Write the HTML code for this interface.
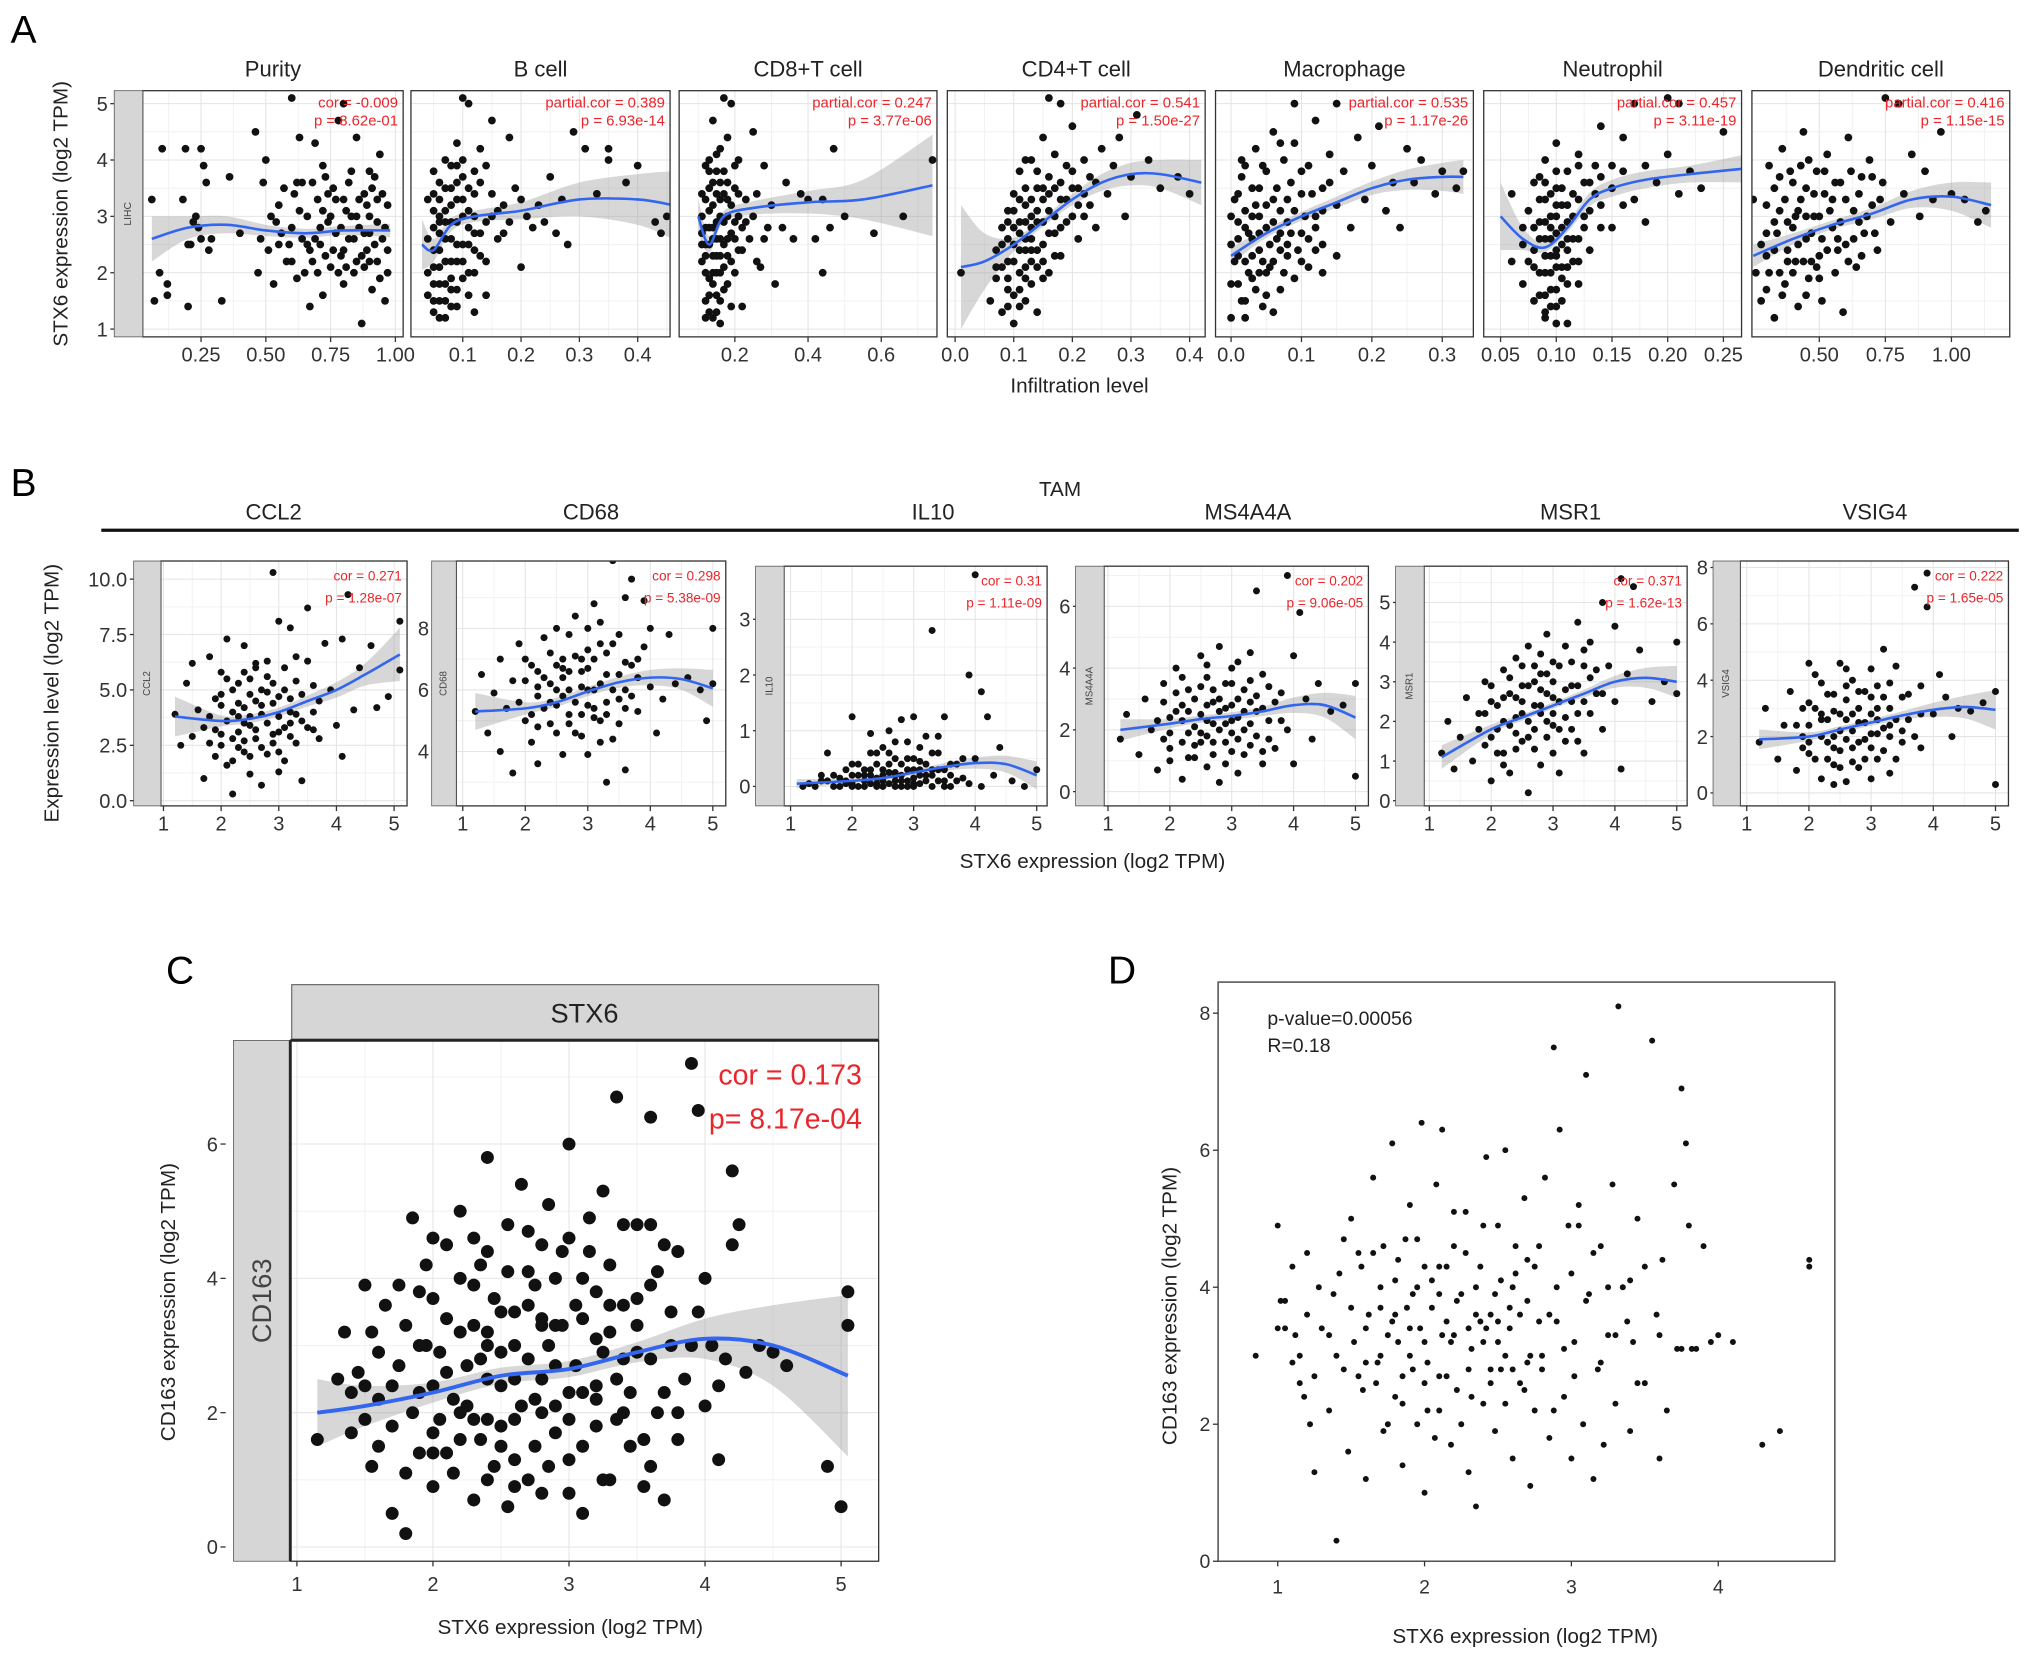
<!DOCTYPE html>
<html><head><meta charset="utf-8">
<style>
html,body{margin:0;padding:0;background:#fff;}
svg{display:block;font-family:"Liberation Sans",Arial,sans-serif;}
</style></head>
<body>
<svg id="fig" width="2032" height="1661" viewBox="0 0 1568 1282" xmlns="http://www.w3.org/2000/svg">
<rect width="1568" height="1282" fill="#fff"/>
<text x="8" y="33" font-size="30">A</text>
<text x="8" y="383" font-size="30">B</text>
<text x="128" y="759" font-size="30">C</text>
<text x="855" y="759" font-size="30">D</text>
<text x="52" y="165" font-size="16" text-anchor="middle" fill="#222" transform="rotate(-90 52 165)">STX6 expression (log2 TPM)</text>
<text x="833" y="303" font-size="16" text-anchor="middle" fill="#222">Infiltration level</text>
<text x="818" y="383" font-size="16" text-anchor="middle" fill="#222">TAM</text>
<rect x="78" y="408" width="1480" height="2.5" fill="#111"/>
<text x="45" y="535" font-size="16" text-anchor="middle" fill="#222" transform="rotate(-90 45 535)">Expression level (log2 TPM)</text>
<text x="843" y="670" font-size="16" text-anchor="middle" fill="#222">STX6 expression (log2 TPM)</text>
<text x="135" y="1005" font-size="16" text-anchor="middle" fill="#222" transform="rotate(-90 135 1005)">CD163 expression (log2 TPM)</text>
<text x="440" y="1261" font-size="16" text-anchor="middle" fill="#222">STX6 expression (log2 TPM)</text>
<text x="908" y="1008" font-size="16" text-anchor="middle" fill="#222" transform="rotate(-90 908 1008)">CD163 expression (log2 TPM)</text>
<text x="1177" y="1268" font-size="16" text-anchor="middle" fill="#222">STX6 expression (log2 TPM)</text>
</svg>
<script>
// ---------- DATA ----------
const purityPts=[[0.06,3.3],[0.07,1.5],[0.09,2.0],[0.1,4.2],[0.12,1.8],[0.12,1.6],[0.18,3.3],[0.19,4.2],[0.2,1.4],[0.21,2.5],[0.23,3.0],[0.24,2.8],[0.25,4.2],[0.26,3.9],[0.27,3.6],[0.29,2.6],[0.33,1.5],[0.36,3.7],[0.4,2.7],[0.46,4.5],[0.47,2.0],[0.49,3.6],[0.5,4.0],[0.51,2.4],[0.53,1.8],[0.55,3.2],[0.56,2.7],[0.58,2.2],[0.6,5.1],[0.61,3.4],[0.62,1.9],[0.63,4.4],[0.64,2.6],[0.66,3.0],[0.67,1.4],[0.68,2.2],[0.69,4.3],[0.7,3.3],[0.71,2.5],[0.72,1.6],[0.73,3.7],[0.74,2.9],[0.75,2.1],[0.76,3.5],[0.77,2.7],[0.78,4.7],[0.79,2.3],[0.8,5.0],[0.8,1.8],[0.81,3.1],[0.82,2.6],[0.83,3.8],[0.84,2.0],[0.85,4.4],[0.86,2.8],[0.87,1.1],[0.88,3.4],[0.89,2.4],[0.9,3.0],[0.91,1.7],[0.92,3.7],[0.93,2.2],[0.94,4.1],[0.95,2.6],[0.96,1.5],[0.97,3.2],[0.97,2.0],[0.6,2.8],[0.65,2.0],[0.75,3.0],[0.85,3.0],[0.7,2.0],[0.9,2.7],[0.55,2.5],[0.8,2.4],[0.62,3.6],[0.72,3.9],[0.88,2.1],[0.93,3.3],[0.67,2.4]];
const purityPts2=[[0.52,3.0],[0.57,3.5],[0.59,2.5],[0.63,3.1],[0.66,2.5],[0.68,3.6],[0.71,2.8],[0.73,2.3],[0.76,2.4],[0.77,3.3],[0.79,2.8],[0.81,2.1],[0.82,3.6],[0.84,2.6],[0.86,3.3],[0.87,2.3],[0.89,3.2],[0.9,2.2],[0.91,3.5],[0.92,2.5],[0.93,2.9],[0.94,1.9],[0.95,3.4],[0.96,2.8],[0.97,2.4],[0.78,2.0],[0.74,3.4],[0.69,2.6],[0.64,3.6],[0.85,2.2],[0.88,2.7],[0.83,3.0],[0.8,3.3],[0.9,3.8],[0.72,3.1],[0.6,2.2],[0.54,2.9],[0.48,2.6],[0.25,2.6],[0.22,2.9],[0.2,2.5],[0.28,2.4]];
const puritySmX=[0.06,0.2,0.35,0.5,0.65,0.8,0.98], puritySmY=[2.6,2.8,2.85,2.75,2.7,2.75,2.75], puritySe=[0.4,0.2,0.15,0.1,0.08,0.08,0.12];
const bcellPts=[[0.04,3.3],[0.04,2.0],[0.05,1.5],[0.05,2.8],[0.05,3.8],[0.06,1.2],[0.06,2.4],[0.06,3.0],[0.07,1.8],[0.07,4.0],[0.07,2.6],[0.08,3.5],[0.08,1.4],[0.08,2.2],[0.09,4.3],[0.09,2.9],[0.09,1.7],[0.1,3.7],[0.1,2.5],[0.1,5.1],[0.11,5.0],[0.11,3.1],[0.11,2.0],[0.12,1.3],[0.12,3.4],[0.12,2.7],[0.13,4.2],[0.13,2.3],[0.14,3.9],[0.14,1.6],[0.15,3.0],[0.15,4.7],[0.16,2.6],[0.17,3.2],[0.18,4.4],[0.18,2.9],[0.19,3.5],[0.2,2.1],[0.21,3.0],[0.22,2.8],[0.23,3.2],[0.25,3.7],[0.26,2.7],[0.27,3.3],[0.28,2.5],[0.29,4.5],[0.31,4.2],[0.33,3.4],[0.35,4.2],[0.35,4.0],[0.38,3.6],[0.4,3.9],[0.43,2.9],[0.45,3.0],[0.44,2.7],[0.06,3.6],[0.07,3.1],[0.08,2.9],[0.09,2.2],[0.05,2.1],[0.1,1.9],[0.12,2.0],[0.06,1.8],[0.11,2.5],[0.05,3.4],[0.07,2.2],[0.09,3.3],[0.08,1.9],[0.06,2.7],[0.1,3.0]];
const bcellPts2=[[0.04,2.6],[0.05,1.8],[0.05,3.1],[0.06,2.1],[0.06,3.3],[0.06,1.5],[0.07,2.9],[0.07,1.5],[0.07,3.5],[0.08,2.6],[0.08,3.2],[0.08,1.7],[0.09,2.5],[0.09,3.6],[0.09,1.4],[0.1,2.2],[0.1,3.3],[0.1,4.0],[0.11,2.8],[0.11,3.5],[0.11,1.6],[0.12,2.4],[0.12,3.0],[0.13,2.7],[0.13,3.6],[0.14,2.9],[0.14,2.2],[0.15,3.4],[0.16,3.1],[0.17,2.7],[0.05,2.4],[0.06,2.9],[0.07,1.2],[0.08,3.9],[0.09,3.9],[0.04,1.6],[0.05,1.3],[0.12,3.8],[0.2,3.3],[0.24,2.9]];
const bcellSmX=[0.03,0.05,0.08,0.12,0.2,0.3,0.4,0.46], bcellSmY=[2.5,2.4,2.85,3.0,3.1,3.3,3.3,3.2], bcellSe=[0.45,0.2,0.12,0.1,0.15,0.3,0.45,0.6];
const cd8Pts=[[0.11,3.4],[0.11,2.2],[0.12,1.5],[0.12,2.8],[0.12,3.9],[0.13,1.3],[0.13,2.5],[0.13,3.1],[0.14,4.7],[0.14,1.8],[0.14,3.6],[0.15,2.0],[0.15,2.9],[0.15,4.1],[0.16,1.1],[0.16,2.6],[0.16,3.3],[0.17,5.1],[0.17,1.7],[0.17,3.8],[0.18,2.3],[0.18,3.0],[0.18,4.4],[0.19,5.0],[0.19,1.4],[0.19,2.7],[0.2,3.5],[0.2,2.0],[0.21,4.0],[0.21,3.0],[0.22,2.4],[0.22,1.4],[0.23,3.3],[0.24,2.6],[0.25,4.5],[0.26,3.4],[0.27,2.1],[0.28,3.9],[0.29,2.8],[0.3,3.2],[0.31,1.8],[0.33,2.8],[0.34,3.6],[0.36,2.6],[0.38,3.4],[0.4,3.3],[0.42,2.6],[0.44,3.3],[0.44,2.0],[0.46,2.8],[0.47,4.2],[0.5,3.0],[0.58,2.7],[0.66,3.0],[0.74,4.0],[0.14,2.3],[0.15,3.4],[0.17,2.1],[0.2,2.6],[0.13,1.9],[0.18,3.6],[0.16,3.0],[0.12,2.3],[0.14,2.8],[0.15,1.6],[0.13,3.5],[0.16,2.0]];
const cd8Pts2=[[0.11,2.7],[0.11,3.0],[0.12,2.0],[0.12,3.3],[0.13,2.8],[0.13,3.8],[0.13,1.6],[0.14,2.6],[0.14,3.2],[0.14,2.0],[0.15,2.6],[0.15,3.8],[0.15,2.3],[0.16,2.3],[0.16,3.6],[0.16,1.5],[0.17,2.9],[0.17,3.4],[0.18,2.6],[0.18,1.8],[0.19,3.2],[0.19,2.2],[0.2,2.9],[0.2,3.9],[0.21,2.4],[0.21,3.4],[0.22,2.8],[0.12,1.2],[0.14,1.2],[0.16,4.2],[0.13,4.0],[0.15,1.3],[0.17,2.5],[0.11,2.5],[0.12,2.5],[0.18,3.3],[0.25,3.0],[0.28,2.6],[0.23,2.9],[0.26,2.2]];
const cd8SmX=[0.1,0.13,0.17,0.25,0.4,0.55,0.74], cd8SmY=[3.0,2.5,3.0,3.15,3.25,3.3,3.55], cd8Se=[0.3,0.15,0.1,0.12,0.2,0.35,0.9];
const cd4Pts=[[0.01,2.0],[0.06,1.5],[0.07,2.4],[0.07,1.9],[0.08,2.8],[0.08,1.3],[0.09,2.2],[0.09,3.1],[0.09,1.7],[0.1,2.5],[0.1,3.4],[0.1,1.1],[0.11,2.0],[0.11,2.9],[0.11,3.8],[0.12,1.5],[0.12,2.6],[0.12,3.2],[0.13,2.2],[0.13,4.0],[0.13,1.8],[0.14,2.9],[0.14,3.5],[0.14,1.3],[0.15,2.5],[0.15,4.4],[0.16,3.1],[0.16,2.0],[0.16,3.7],[0.17,2.7],[0.17,4.1],[0.18,3.3],[0.18,2.3],[0.19,3.9],[0.19,2.9],[0.2,3.5],[0.2,4.6],[0.21,2.6],[0.21,3.2],[0.22,4.0],[0.22,3.0],[0.23,3.7],[0.24,2.8],[0.25,4.2],[0.26,3.4],[0.27,3.9],[0.28,4.4],[0.29,3.0],[0.3,3.7],[0.31,4.8],[0.33,4.0],[0.35,3.5],[0.38,3.7],[0.4,3.4],[0.16,5.1],[0.18,5.0],[0.12,2.1],[0.14,2.4],[0.1,2.8],[0.13,3.0],[0.15,1.9],[0.11,2.4],[0.12,2.9],[0.13,2.6],[0.09,2.6],[0.15,3.3]];
const cd4Pts2=[[0.07,2.1],[0.08,2.1],[0.08,2.5],[0.09,1.9],[0.09,2.9],[0.1,2.2],[0.1,3.1],[0.1,1.6],[0.11,2.7],[0.11,3.3],[0.11,1.7],[0.12,2.4],[0.12,3.5],[0.12,1.9],[0.13,2.8],[0.13,3.3],[0.13,2.4],[0.14,3.1],[0.14,2.1],[0.14,3.8],[0.15,2.9],[0.15,3.5],[0.15,2.2],[0.16,2.7],[0.16,3.4],[0.17,3.0],[0.17,3.5],[0.17,2.3],[0.18,2.8],[0.18,3.6],[0.19,3.3],[0.2,3.0],[0.2,3.8],[0.21,3.5],[0.22,3.4],[0.23,3.2],[0.24,3.6],[0.11,1.4],[0.09,1.4],[0.12,4.0]];
const cd4SmX=[0.01,0.05,0.1,0.15,0.2,0.25,0.3,0.35,0.42], cd4SmY=[2.1,2.2,2.5,2.9,3.3,3.6,3.75,3.75,3.6], cd4Se=[1.1,0.5,0.12,0.08,0.1,0.15,0.2,0.25,0.4];
const macPts=[[0.0,1.2],[0.0,2.5],[0.005,3.3],[0.01,1.8],[0.01,2.9],[0.015,3.7],[0.02,2.2],[0.02,1.5],[0.025,2.7],[0.03,3.5],[0.03,1.9],[0.035,4.2],[0.04,2.4],[0.04,3.0],[0.045,1.4],[0.05,2.8],[0.05,3.8],[0.055,2.1],[0.06,3.3],[0.06,4.5],[0.065,2.6],[0.07,1.7],[0.07,3.1],[0.075,4.0],[0.08,2.3],[0.08,2.9],[0.085,3.6],[0.09,1.9],[0.09,4.3],[0.1,2.7],[0.1,3.4],[0.11,2.1],[0.11,3.9],[0.12,3.0],[0.12,4.7],[0.13,2.5],[0.13,3.5],[0.14,4.1],[0.15,3.2],[0.15,2.3],[0.16,3.8],[0.17,2.8],[0.18,4.4],[0.19,3.3],[0.2,3.9],[0.21,4.6],[0.22,3.1],[0.23,3.6],[0.24,2.8],[0.25,4.2],[0.26,3.6],[0.27,4.0],[0.29,3.4],[0.3,3.8],[0.32,3.5],[0.33,3.8],[0.06,1.3],[0.03,2.6],[0.08,2.5],[0.05,2.0],[0.12,2.4],[0.09,5.0],[0.15,5.0],[0.02,3.1],[0.04,2.0],[0.07,2.4],[0.01,2.3],[0.035,3.2]];
const macPts2=[[0.0,1.8],[0.0,3.0],[0.005,2.2],[0.01,2.6],[0.01,3.4],[0.015,1.5],[0.02,2.8],[0.02,3.9],[0.025,2.0],[0.03,2.3],[0.03,3.0],[0.035,1.7],[0.04,2.7],[0.04,3.5],[0.045,2.2],[0.05,3.2],[0.05,1.6],[0.055,2.5],[0.06,2.9],[0.06,2.2],[0.065,3.5],[0.07,2.7],[0.075,2.0],[0.08,3.3],[0.085,2.7],[0.09,3.1],[0.095,2.4],[0.1,3.8],[0.1,2.2],[0.105,3.0],[0.11,2.6],[0.115,3.4],[0.12,2.8],[0.13,3.1],[0.13,2.0],[0.14,3.6],[0.015,4.0],[0.045,3.9],[0.07,4.3],[0.02,1.2]];
const macSmX=[0,0.05,0.1,0.15,0.2,0.25,0.3,0.33], macSmY=[2.3,2.7,3.0,3.25,3.5,3.65,3.7,3.7], macSe=[0.15,0.08,0.08,0.1,0.12,0.18,0.25,0.3];
const neuPts=[[0.06,3.4],[0.06,2.2],[0.07,2.8],[0.07,1.8],[0.075,3.1],[0.08,2.4],[0.08,1.5],[0.08,3.6],[0.085,2.0],[0.085,2.9],[0.09,1.2],[0.09,2.6],[0.09,3.3],[0.09,4.0],[0.095,1.7],[0.095,2.3],[0.095,3.0],[0.1,1.4],[0.1,2.1],[0.1,2.7],[0.1,3.5],[0.1,4.3],[0.105,1.9],[0.105,2.5],[0.105,3.2],[0.11,1.1],[0.11,2.9],[0.11,3.8],[0.115,2.2],[0.115,3.4],[0.12,2.6],[0.12,4.1],[0.125,3.0],[0.13,3.6],[0.13,2.4],[0.135,3.9],[0.14,3.2],[0.14,4.6],[0.15,3.5],[0.15,2.8],[0.16,3.8],[0.16,4.4],[0.17,3.3],[0.18,3.9],[0.18,2.9],[0.19,3.6],[0.2,4.1],[0.21,3.4],[0.22,3.8],[0.23,3.5],[0.25,4.5],[0.27,3.8],[0.2,5.1],[0.21,5.0],[0.17,5.0],[0.09,2.0],[0.1,3.0],[0.085,2.6],[0.11,2.4],[0.12,1.8],[0.095,2.6],[0.1,2.4],[0.09,2.9],[0.105,2.1]];
const neuPts2=[[0.08,2.1],[0.08,2.8],[0.085,1.6],[0.085,3.3],[0.09,1.6],[0.09,2.3],[0.09,3.6],[0.095,1.4],[0.095,2.0],[0.095,2.8],[0.095,3.4],[0.1,1.7],[0.1,2.3],[0.1,3.2],[0.1,3.8],[0.105,1.5],[0.105,2.8],[0.105,3.5],[0.11,1.8],[0.11,2.1],[0.11,2.6],[0.11,3.2],[0.115,2.6],[0.115,3.0],[0.12,2.2],[0.12,3.3],[0.125,2.8],[0.125,3.6],[0.13,3.1],[0.135,3.4],[0.14,2.8],[0.14,3.7],[0.15,3.9],[0.16,3.2],[0.07,2.5],[0.075,2.2],[0.09,1.3],[0.1,1.1],[0.085,3.7],[0.12,3.9]];
const neuSmX=[0.05,0.07,0.09,0.11,0.13,0.15,0.18,0.22,0.27], neuSmY=[3.0,2.6,2.45,2.8,3.3,3.5,3.65,3.75,3.85], neuSe=[0.6,0.2,0.08,0.08,0.12,0.15,0.15,0.15,0.25];
const dcPts=[[0.25,3.3],[0.26,2.0],[0.28,1.5],[0.3,2.7],[0.31,3.9],[0.33,1.2],[0.33,2.4],[0.35,3.1],[0.36,4.2],[0.37,1.8],[0.38,2.9],[0.4,3.6],[0.41,2.2],[0.42,1.4],[0.43,3.3],[0.44,4.5],[0.45,2.6],[0.46,1.9],[0.48,3.0],[0.49,3.8],[0.5,2.3],[0.51,1.5],[0.52,3.4],[0.53,4.1],[0.55,2.8],[0.56,2.0],[0.58,3.6],[0.59,1.3],[0.6,2.5],[0.61,4.4],[0.63,3.1],[0.64,2.1],[0.66,3.7],[0.67,2.7],[0.69,4.0],[0.7,3.2],[0.72,2.4],[0.74,3.6],[0.75,5.1],[0.77,2.9],[0.8,5.0],[0.82,3.4],[0.85,4.1],[0.88,3.0],[0.9,3.8],[0.93,3.3],[0.96,4.5],[1.0,3.4],[1.05,3.3],[1.1,2.9],[1.13,3.1],[0.4,2.8],[0.45,3.5],[0.35,2.0],[0.55,3.3],[0.65,2.9],[0.5,1.9],[0.3,1.7],[0.38,2.4],[0.47,2.2],[0.42,3.1],[0.33,2.9],[0.57,2.4]];
const dcPts2=[[0.28,2.5],[0.3,3.2],[0.31,2.0],[0.33,3.5],[0.34,2.7],[0.36,1.6],[0.37,3.3],[0.38,2.2],[0.39,3.8],[0.4,2.0],[0.41,3.0],[0.42,2.5],[0.43,3.9],[0.44,2.2],[0.45,3.0],[0.46,4.0],[0.47,2.7],[0.48,3.4],[0.49,2.1],[0.5,3.0],[0.51,2.6],[0.52,3.8],[0.53,2.4],[0.54,3.1],[0.56,3.6],[0.57,2.6],[0.58,2.9],[0.6,3.3],[0.61,2.2],[0.62,3.8],[0.63,2.6],[0.65,3.4],[0.66,2.3],[0.68,3.0],[0.7,3.7],[0.71,2.7],[0.73,3.3],[0.35,3.7],[0.3,2.3],[0.45,1.6]];
const dcSmX=[0.25,0.4,0.55,0.7,0.85,1.0,1.15], dcSmY=[2.3,2.6,2.85,3.05,3.3,3.35,3.2], dcSe=[0.2,0.1,0.08,0.1,0.15,0.25,0.4];

const ccl2Pts=[[1.2,3.9],[1.3,2.5],[1.4,5.3],[1.5,6.2],[1.5,2.9],[1.6,4.1],[1.7,1.0],[1.7,3.3],[1.8,6.5],[1.9,2.0],[1.9,4.6],[2.0,5.8],[2.0,3.0],[2.1,7.3],[2.1,1.6],[2.2,4.0],[2.2,0.3],[2.3,5.3],[2.3,2.4],[2.4,7.0],[2.4,3.5],[2.5,1.2],[2.5,4.8],[2.6,6.2],[2.6,2.8],[2.7,0.7],[2.7,3.9],[2.8,5.6],[2.8,2.1],[2.9,10.3],[2.9,4.4],[3.0,8.1],[3.0,3.1],[3.1,6.0],[3.1,1.8],[3.2,7.8],[3.2,4.6],[3.3,2.6],[3.3,5.4],[3.4,3.6],[3.4,0.9],[3.5,8.7],[3.5,6.3],[3.6,4.0],[3.7,2.8],[3.8,7.1],[3.9,5.0],[4.0,3.4],[4.1,7.3],[4.1,2.0],[4.2,9.3],[4.3,4.1],[4.4,6.0],[4.6,7.0],[4.7,4.2],[4.9,4.7],[5.1,8.1],[5.1,5.9],[2.5,3.4],[2.0,4.3],[3.0,2.2],[2.7,5.0],[2.3,3.8],[3.6,3.2],[1.8,2.6],[2.4,2.2],[2.9,3.0],[3.2,3.5]];
const ccl2Pts2=[[1.8,3.8],[1.9,3.2],[2.0,2.5],[2.0,4.8],[2.1,3.6],[2.2,2.8],[2.2,5.0],[2.3,3.1],[2.3,4.4],[2.4,2.7],[2.4,4.2],[2.5,3.8],[2.5,5.5],[2.6,3.2],[2.6,4.5],[2.7,2.4],[2.7,4.3],[2.8,3.5],[2.8,4.9],[2.9,2.6],[2.9,5.3],[3.0,3.8],[3.0,4.7],[3.1,3.3],[3.1,5.0],[3.2,2.9],[3.2,4.0],[3.3,3.9],[3.4,4.8],[3.5,3.3],[3.6,5.2],[3.7,4.5],[2.1,5.5],[2.6,6.0],[2.2,1.8],[2.5,2.0],[3.0,1.3],[2.8,6.3],[3.3,6.5],[2.4,5.8]];
const ccl2SmX=[1.2,2,2.5,3,3.5,4,4.5,5.1], ccl2SmY=[3.8,3.6,3.7,4.0,4.5,5.0,5.7,6.6], ccl2Se=[0.9,0.25,0.2,0.2,0.25,0.35,0.5,1.2];
const cd68Pts=[[1.2,5.3],[1.3,6.5],[1.4,4.6],[1.5,5.9],[1.6,7.0],[1.6,4.0],[1.7,5.4],[1.8,3.3],[1.8,6.3],[1.9,7.5],[2.0,5.0],[2.1,4.3],[2.1,6.8],[2.2,5.8],[2.2,3.6],[2.3,7.7],[2.4,4.9],[2.4,6.2],[2.5,8.0],[2.5,5.5],[2.6,3.9],[2.6,7.0],[2.7,6.0],[2.8,4.6],[2.8,8.4],[2.9,6.6],[2.9,5.2],[3.0,7.3],[3.0,3.9],[3.1,6.0],[3.1,8.8],[3.2,5.0],[3.2,7.5],[3.3,6.5],[3.3,3.0],[3.4,10.2],[3.4,4.4],[3.5,7.8],[3.5,5.7],[3.6,9.0],[3.6,3.4],[3.7,6.8],[3.7,9.6],[3.8,5.3],[3.9,7.4],[3.9,8.9],[4.0,6.1],[4.0,8.0],[4.1,4.6],[4.2,5.7],[4.3,7.8],[4.4,6.2],[4.6,6.4],[4.8,6.0],[4.9,5.0],[5.0,8.0],[5.0,6.2],[2.5,6.8],[3.0,6.0],[2.7,5.2],[3.3,5.6],[2.2,6.1],[2.9,7.0],[3.6,6.0],[2.6,6.4],[3.1,5.4]];
const cd68Pts2=[[1.9,5.6],[2.0,6.3],[2.1,5.2],[2.2,6.6],[2.3,5.4],[2.3,6.4],[2.4,5.6],[2.4,7.2],[2.5,4.6],[2.5,6.0],[2.6,5.8],[2.6,6.7],[2.7,6.6],[2.7,4.9],[2.8,5.6],[2.8,7.1],[2.9,6.1],[2.9,4.5],[3.0,5.5],[3.0,6.7],[3.1,5.1],[3.1,7.0],[3.2,6.2],[3.2,4.3],[3.3,7.2],[3.3,5.2],[3.4,6.0],[3.4,7.5],[3.5,6.5],[3.5,4.9],[3.6,6.9],[3.6,5.4],[3.7,5.8],[3.8,7.0],[3.8,6.4],[2.0,7.0],[2.2,4.8],[3.0,8.0],[2.7,7.8],[3.2,8.2]];
const cd68SmX=[1.2,2,2.5,3,3.5,4,4.5,5.0], cd68SmY=[5.3,5.4,5.6,5.95,6.25,6.4,6.35,6.05], cd68Se=[0.6,0.2,0.15,0.15,0.18,0.25,0.35,0.6];
const il10Pts=[[1.2,0.0],[1.3,0.05],[1.5,0.1],[1.6,0.6],[1.7,0.0],[1.8,0.15],[1.9,0.05],[2.0,1.25],[2.0,0.2],[2.1,0.0],[2.2,0.3],[2.2,0.1],[2.3,0.95],[2.3,0.05],[2.4,0.4],[2.4,0.15],[2.5,0.0],[2.5,0.7],[2.6,0.25],[2.6,1.0],[2.7,0.1],[2.7,0.5],[2.8,1.2],[2.8,0.0],[2.9,0.3],[2.9,0.8],[3.0,0.15],[3.0,1.25],[3.1,0.05],[3.1,0.45],[3.2,0.9],[3.2,0.2],[3.3,2.8],[3.3,0.0],[3.4,0.6],[3.4,0.1],[3.5,1.25],[3.5,0.3],[3.6,0.0],[3.7,0.4],[3.8,0.15],[3.9,2.0],[3.9,0.05],[4.0,3.8],[4.0,0.5],[4.1,1.7],[4.1,0.0],[4.2,1.25],[4.3,0.2],[4.4,0.7],[4.6,0.1],[4.8,0.0],[5.0,0.3],[1.9,0.1],[2.1,0.2],[2.5,0.2],[2.9,0.1],[3.3,0.2],[2.6,0.05],[3.1,0.2],[2.2,0.0],[1.7,0.2],[2.8,0.2],[2.0,0.05],[2.4,0.0],[2.7,0.25],[3.0,0.05],[3.6,0.2],[2.3,0.2]];
const il10Pts2=[[1.4,0.0],[1.6,0.1],[1.8,0.0],[1.9,0.3],[2.0,0.0],[2.1,0.4],[2.2,0.2],[2.3,0.3],[2.4,0.05],[2.4,0.6],[2.5,0.3],[2.5,0.1],[2.6,0.4],[2.7,0.0],[2.7,0.2],[2.8,0.4],[2.8,0.1],[2.9,0.0],[2.9,0.5],[3.0,0.3],[3.0,0.0],[3.1,0.3],[3.1,0.7],[3.2,0.1],[3.2,0.4],[3.3,0.3],[3.3,0.6],[3.4,0.3],[3.5,0.0],[3.5,0.1],[3.6,0.4],[3.7,0.1],[3.8,0.5],[1.5,0.2],[2.0,0.4],[2.6,0.6],[2.3,0.6],[3.4,0.9],[2.7,0.8],[3.0,0.5]];
const il10SmX=[1.1,2,2.5,3,3.5,4,4.5,5.0], il10SmY=[0.05,0.1,0.15,0.25,0.35,0.42,0.4,0.2], il10Se=[0.08,0.04,0.04,0.05,0.07,0.1,0.15,0.25];
const ms4Pts=[[1.2,1.7],[1.3,2.5],[1.5,1.2],[1.6,3.0],[1.7,2.0],[1.8,0.7],[1.9,3.5],[2.0,2.4],[2.0,1.4],[2.1,4.0],[2.2,2.8],[2.2,0.4],[2.3,1.9],[2.3,3.3],[2.4,1.1],[2.5,4.4],[2.5,2.5],[2.6,0.8],[2.6,3.7],[2.7,1.6],[2.7,2.9],[2.8,4.7],[2.8,0.3],[2.9,2.2],[2.9,3.5],[3.0,1.3],[3.0,2.8],[3.1,4.2],[3.1,0.6],[3.2,2.0],[3.2,3.3],[3.3,1.5],[3.3,4.5],[3.4,2.6],[3.4,6.5],[3.5,0.9],[3.5,3.8],[3.6,2.3],[3.7,1.4],[3.8,3.2],[3.9,7.0],[3.9,2.0],[4.0,4.4],[4.0,0.9],[4.1,5.8],[4.2,3.0],[4.3,1.7],[4.4,3.5],[4.6,2.6],[4.8,2.8],[5.0,3.5],[5.0,0.5],[2.4,2.1],[2.8,2.6],[3.0,1.9],[2.6,1.8],[3.3,2.9],[2.2,2.3],[1.9,1.7],[3.6,3.4],[2.5,1.6],[2.7,2.2],[3.1,2.4]];
const ms4Pts2=[[1.8,2.3],[1.9,2.9],[2.0,1.9],[2.1,2.6],[2.1,3.2],[2.2,1.6],[2.3,2.6],[2.4,3.0],[2.4,1.5],[2.5,3.4],[2.5,1.9],[2.6,2.8],[2.6,2.3],[2.7,3.3],[2.7,1.2],[2.8,2.0],[2.8,3.0],[2.9,1.6],[2.9,2.7],[3.0,3.5],[3.0,2.3],[3.1,1.7],[3.1,3.0],[3.2,2.6],[3.2,1.2],[3.3,3.6],[3.3,2.2],[3.4,1.8],[3.4,3.1],[3.5,2.7],[3.6,1.7],[3.7,2.9],[3.8,2.3],[2.2,3.7],[2.6,4.1],[3.0,4.0],[2.0,1.0],[2.9,0.9],[3.5,1.3],[2.3,1.1]];
const ms4SmX=[1.2,2,2.5,3,3.5,4,4.5,5], ms4SmY=[2.0,2.2,2.35,2.45,2.6,2.8,2.8,2.4], ms4Se=[0.35,0.15,0.12,0.12,0.15,0.25,0.4,0.7];
const msr1Pts=[[1.2,1.2],[1.3,2.0],[1.4,0.8],[1.5,1.6],[1.6,2.6],[1.7,1.0],[1.8,2.2],[1.9,1.4],[1.9,3.0],[2.0,0.5],[2.0,2.5],[2.1,1.8],[2.2,3.3],[2.2,1.2],[2.3,2.7],[2.3,0.7],[2.4,2.1],[2.4,3.6],[2.5,1.5],[2.5,2.9],[2.6,0.2],[2.6,3.9],[2.7,2.4],[2.7,1.8],[2.8,3.2],[2.8,0.9],[2.9,2.7],[2.9,4.2],[3.0,1.9],[3.0,3.5],[3.1,0.7],[3.1,2.5],[3.2,3.9],[3.2,1.5],[3.3,2.9],[3.4,4.5],[3.4,2.2],[3.5,3.4],[3.5,1.2],[3.6,4.0],[3.7,2.7],[3.8,5.0],[3.8,1.8],[3.9,3.4],[4.0,4.4],[4.0,2.5],[4.1,5.6],[4.1,0.8],[4.2,3.2],[4.3,5.4],[4.4,3.8],[4.6,2.5],[4.8,3.0],[5.0,4.0],[5.0,2.7],[2.5,2.2],[2.7,3.0],[2.9,2.0],[3.3,2.5],[2.2,2.0],[3.0,2.6],[3.6,3.1],[2.4,1.7],[2.8,2.4]];
const msr1Pts2=[[1.8,1.8],[1.9,2.2],[2.0,1.6],[2.1,2.4],[2.1,1.2],[2.2,2.6],[2.3,1.9],[2.3,3.1],[2.4,2.6],[2.4,1.3],[2.5,2.5],[2.5,3.4],[2.6,2.0],[2.6,2.9],[2.7,1.3],[2.7,3.4],[2.8,2.2],[2.8,2.8],[2.9,1.6],[2.9,3.2],[3.0,2.2],[3.0,3.0],[3.1,1.8],[3.1,3.4],[3.2,2.8],[3.2,2.1],[3.3,3.5],[3.3,1.8],[3.4,2.9],[3.5,2.5],[3.5,3.8],[3.6,2.2],[3.7,3.3],[3.8,2.7],[2.2,0.9],[2.6,1.6],[3.0,1.2],[3.4,1.5],[2.0,2.9],[2.8,3.7]];
const msr1SmX=[1.2,2,2.5,3,3.5,4,4.5,5], msr1SmY=[1.1,1.8,2.1,2.4,2.7,3.0,3.1,3.0], msr1Se=[0.3,0.12,0.08,0.08,0.1,0.15,0.25,0.4];
const vsig4Pts=[[1.2,1.8],[1.3,3.0],[1.5,1.2],[1.6,2.4],[1.7,3.6],[1.8,0.8],[1.9,2.0],[2.0,3.2],[2.0,1.4],[2.1,4.2],[2.2,2.6],[2.2,0.5],[2.3,1.8],[2.3,3.5],[2.4,1.0],[2.4,2.9],[2.5,4.6],[2.5,2.2],[2.6,0.4],[2.6,3.3],[2.7,1.6],[2.7,4.0],[2.8,2.5],[2.8,0.9],[2.9,3.6],[2.9,1.9],[3.0,4.4],[3.0,2.8],[3.1,1.2],[3.1,3.8],[3.2,2.3],[3.2,5.1],[3.3,0.7],[3.3,3.0],[3.4,4.5],[3.5,1.8],[3.5,3.4],[3.6,2.6],[3.7,7.3],[3.8,1.6],[3.8,3.8],[3.9,7.8],[3.9,6.6],[4.0,2.8],[4.1,4.2],[4.2,3.4],[4.3,2.0],[4.4,3.0],[4.6,2.9],[4.8,3.2],[5.0,0.3],[5.0,3.6],[2.4,2.0],[2.8,3.0],[3.0,2.1],[2.6,2.6],[3.3,2.4],[2.2,2.8],[1.9,1.6],[2.5,1.5],[2.7,2.2],[3.1,2.6]];
const vsig4Pts2=[[1.8,2.4],[1.9,3.0],[2.0,1.8],[2.0,2.4],[2.1,1.2],[2.1,3.0],[2.2,2.0],[2.3,2.6],[2.3,1.2],[2.4,3.5],[2.4,1.6],[2.5,2.8],[2.5,0.9],[2.6,1.9],[2.6,3.8],[2.7,2.8],[2.7,1.1],[2.8,1.8],[2.8,3.6],[2.9,2.5],[2.9,1.2],[3.0,3.4],[3.0,1.6],[3.1,2.1],[3.1,3.0],[3.2,1.5],[3.2,3.4],[3.3,2.0],[3.3,3.9],[3.4,2.6],[3.5,2.2],[3.6,3.5],[3.7,2.0],[3.8,2.8],[2.2,3.9],[2.6,4.4],[3.0,0.5],[2.4,0.3],[3.4,1.2],[2.0,4.6]];
const vsig4SmX=[1.2,2,2.5,3,3.5,4,4.5,5], vsig4SmY=[1.9,2.0,2.25,2.5,2.75,2.95,3.05,2.95], vsig4Se=[0.35,0.15,0.12,0.12,0.15,0.25,0.4,0.7];

const cPts=[[1.15,1.6],[1.3,2.5],[1.35,3.2],[1.4,1.7],[1.45,2.6],[1.5,3.9],[1.55,1.2],[1.6,2.2],[1.6,2.9],[1.65,3.6],[1.7,0.5],[1.7,1.8],[1.75,2.7],[1.8,3.3],[1.8,0.2],[1.85,4.9],[1.9,1.4],[1.9,2.3],[1.95,3.0],[2.0,0.9],[2.0,3.7],[2.05,1.9],[2.1,2.6],[2.1,4.5],[2.15,1.1],[2.2,3.2],[2.2,5.0],[2.25,2.1],[2.3,0.7],[2.3,3.9],[2.35,1.6],[2.35,2.8],[2.4,5.8],[2.4,4.4],[2.45,1.2],[2.5,2.4],[2.5,3.5],[2.55,0.6],[2.55,4.8],[2.6,1.9],[2.6,3.0],[2.65,5.4],[2.7,1.0],[2.7,4.1],[2.75,2.2],[2.8,3.4],[2.8,0.8],[2.85,5.1],[2.9,1.7],[2.9,2.7],[2.95,4.4],[3.0,6.0],[3.0,1.3],[3.05,3.6],[3.1,2.3],[3.1,0.5],[3.15,4.9],[3.2,1.8],[3.2,3.1],[3.25,5.3],[3.3,1.0],[3.3,4.2],[3.35,6.7],[3.35,2.5],[3.4,3.6],[3.45,1.5],[3.5,4.8],[3.5,2.9],[3.55,0.9],[3.6,6.4],[3.6,3.9],[3.65,2.0],[3.7,0.7],[3.7,4.5],[3.75,3.0],[3.8,1.6],[3.85,2.5],[3.9,7.2],[3.95,6.5],[3.95,3.5],[4.0,2.1],[4.0,4.0],[4.1,1.3],[4.15,2.8],[4.2,5.6],[4.2,4.5],[4.25,4.8],[4.3,2.6],[4.5,2.9],[4.6,2.7],[4.9,1.2],[5.0,0.6],[5.05,3.8],[5.05,3.3],[2.2,2.0],[2.6,2.5],[3.0,2.3],[2.4,1.9],[2.8,2.0],[3.2,2.4],[1.5,2.4],[2.0,2.4],[3.4,2.0],[3.6,1.2],[1.9,3.8],[2.3,4.6],[2.7,3.6],[3.1,4.0],[2.5,1.5],[2.9,3.3],[3.3,3.2],[2.1,1.4],[2.4,3.0],[2.8,4.5],[3.5,3.7],[2.0,1.7],[2.6,0.9],[3.0,0.8]];
const cPts2=[[1.6,1.5],[1.7,2.4],[1.75,3.9],[1.8,1.1],[1.85,2.0],[1.9,3.0],[1.95,4.2],[2.0,1.4],[2.05,2.9],[2.1,3.4],[2.15,2.2],[2.2,1.6],[2.2,4.0],[2.25,2.7],[2.3,1.9],[2.3,3.3],[2.35,4.2],[2.4,1.0],[2.4,2.5],[2.45,3.7],[2.5,1.8],[2.5,2.9],[2.55,4.1],[2.6,1.3],[2.6,3.5],[2.65,2.1],[2.7,2.8],[2.7,4.7],[2.75,1.5],[2.75,3.9],[2.8,2.5],[2.85,3.0],[2.85,1.2],[2.9,4.0],[2.9,2.1],[2.95,3.3],[3.0,1.9],[3.0,4.6],[3.05,2.7],[3.1,1.5],[3.1,3.4],[3.15,4.4],[3.2,2.2],[3.25,1.0],[3.25,2.9],[3.3,3.6],[3.35,1.9],[3.4,2.8],[3.4,4.8],[3.45,2.3],[3.5,3.3],[3.55,1.6],[3.6,2.8],[3.65,4.1],[3.7,2.3],[3.75,3.5],[3.8,2.0],[3.8,4.4],[3.9,3.0],[1.4,2.3],[1.5,1.9],[1.55,3.2],[2.0,4.6],[2.4,3.2],[2.8,3.3],[3.2,3.8],[3.6,4.8],[4.05,3.0],[4.1,2.4],[4.4,3.0]];
const cSmX=[1.15,1.5,2,2.5,3,3.5,4,4.5,5.05], cSmY=[2.0,2.1,2.3,2.55,2.65,2.9,3.1,3.0,2.55], cSe=[0.5,0.3,0.15,0.12,0.12,0.15,0.3,0.6,1.2];

const dPts=[[0.85,3.0],[1.0,4.9],[1.0,3.4],[1.02,3.8],[1.05,3.8],[1.1,2.9],[1.12,3.3],[1.15,2.6],[1.18,2.4],[1.2,4.5],[1.22,2.0],[1.25,1.3],[1.3,3.4],[1.35,2.2],[1.38,3.9],[1.4,0.3],[1.42,4.2],[1.45,2.8],[1.48,1.6],[1.5,5.0],[1.52,3.2],[1.55,4.5],[1.58,2.5],[1.6,1.2],[1.62,3.6],[1.65,5.6],[1.68,2.9],[1.7,4.0],[1.72,1.9],[1.75,3.3],[1.78,6.1],[1.8,2.4],[1.82,4.4],[1.85,1.4],[1.88,3.7],[1.9,5.2],[1.92,2.8],[1.95,4.7],[1.98,6.4],[2.0,1.0],[2.0,3.2],[2.02,2.2],[2.05,4.1],[2.08,5.5],[2.1,2.7],[2.12,6.3],[2.15,3.5],[2.18,1.7],[2.2,4.6],[2.22,2.5],[2.25,3.9],[2.28,5.1],[2.3,1.3],[2.32,3.1],[2.35,0.8],[2.38,4.3],[2.4,2.3],[2.42,5.9],[2.45,3.6],[2.48,1.9],[2.5,4.9],[2.52,2.8],[2.55,6.0],[2.58,3.4],[2.6,1.5],[2.62,4.2],[2.65,2.6],[2.68,5.3],[2.7,3.8],[2.72,1.1],[2.75,2.2],[2.78,4.6],[2.8,3.0],[2.82,5.6],[2.85,1.8],[2.88,7.5],[2.9,3.5],[2.92,6.3],[2.95,2.4],[2.98,4.9],[3.0,1.5],[3.02,3.2],[3.05,5.2],[3.08,2.0],[3.1,7.1],[3.12,3.9],[3.15,1.2],[3.18,2.8],[3.2,4.6],[3.22,1.7],[3.25,3.3],[3.28,5.5],[3.3,2.3],[3.32,8.1],[3.35,4.0],[3.4,1.9],[3.42,3.2],[3.45,5.0],[3.5,2.6],[3.55,7.6],[3.58,3.6],[3.6,1.5],[3.62,4.4],[3.7,5.5],[3.72,3.1],[3.75,6.9],[3.78,6.1],[3.8,4.9],[3.82,3.1],[3.9,4.6],[3.95,3.2],[4.0,3.3],[4.1,3.2],[4.3,1.7],[4.42,1.9],[4.62,4.4],[4.62,4.3],[1.7,3.0],[1.9,3.4],[2.1,3.9],[2.3,2.8],[2.5,3.5],[2.7,2.9],[1.6,2.9],[2.0,2.6],[2.4,3.2],[1.8,3.6],[2.2,3.3],[2.6,4.0],[2.1,2.2],[1.95,4.0],[2.35,3.6],[2.55,3.0],[2.15,4.3],[1.85,2.7],[2.45,2.6]];
const dPts2=[[1.05,3.4],[1.1,4.3],[1.15,3.0],[1.2,3.6],[1.25,2.7],[1.28,4.0],[1.35,3.3],[1.4,3.0],[1.45,4.7],[1.5,3.7],[1.55,2.7],[1.57,4.3],[1.6,3.4],[1.65,4.5],[1.67,2.6],[1.7,3.7],[1.72,4.6],[1.75,2.0],[1.78,3.5],[1.8,4.1],[1.82,3.2],[1.85,2.3],[1.87,4.7],[1.9,3.0],[1.92,3.9],[1.95,2.0],[1.97,3.4],[2.0,4.3],[2.02,2.9],[2.05,3.7],[2.07,1.8],[2.1,4.3],[2.12,3.3],[2.15,2.7],[2.18,3.2],[2.2,5.1],[2.22,3.8],[2.25,2.0],[2.28,4.5],[2.3,3.4],[2.32,2.4],[2.35,4.0],[2.38,3.5],[2.4,4.9],[2.42,3.4],[2.45,2.8],[2.48,3.9],[2.5,3.2],[2.52,4.1],[2.55,2.3],[2.58,3.7],[2.6,2.8],[2.62,4.6],[2.65,3.6],[2.68,2.5],[2.7,4.4],[2.72,3.0],[2.75,4.3],[2.78,3.5],[2.8,2.8],[2.85,3.6],[2.88,2.2],[2.9,4.0],[2.95,3.1],[3.0,4.2],[3.02,2.7],[3.05,4.9],[3.1,3.8],[3.15,4.5],[3.2,2.9],[3.25,4.0],[3.3,3.3],[3.38,3.5],[3.4,4.1],[3.45,2.6],[3.5,4.3],[3.6,3.3],[3.65,2.2],[3.75,3.1],[3.85,3.1]];

// ---------- DRAWING ----------
const svg=document.getElementById('fig');
const NS='http://www.w3.org/2000/svg';
function mk(tag,attrs,parent){const e=document.createElementNS(NS,tag);for(const k in attrs)e.setAttribute(k,attrs[k]);(parent||svg).appendChild(e);return e;}
function lin(a){return v=>a[1]+(v-a[0])*(a[3]-a[1])/(a[2]-a[0]);}
function crPath(P){let d='M'+P[0][0]+','+P[0][1];for(let i=0;i<P.length-1;i++){const p0=P[i-1]||P[i],p1=P[i],p2=P[i+1],p3=P[i+2]||p2;
 d+=' C'+(p1[0]+(p2[0]-p0[0])/6)+','+(p1[1]+(p2[1]-p0[1])/6)+' '+(p2[0]-(p3[0]-p1[0])/6)+','+(p2[1]-(p3[1]-p1[1])/6)+' '+p2[0]+','+p2[1];}return d;}
let clipId=0;
function panel(c){
 const g=mk('g',{});
 
 
 const X=lin(c.xa),Y=lin(c.ya);
 const [l,t,r,b]=c.box;
 const bg=mk('rect',{x:l,y:t,width:r-l,height:b-t,fill:'#fff'},g);
 
 
 if(c.grid!==false){
  const xs=c.xt.map(X),ys=c.yt.map(Y);
  const addG=(arr,vert,col)=>arr.forEach(p=>{if(vert){if(p>l&&p<r)mk('line',{x1:p,x2:p,y1:t,y2:b,stroke:col,'stroke-width':0.8},g);}else{if(p>t&&p<b)mk('line',{y1:p,y2:p,x1:l,x2:r,stroke:col,'stroke-width':0.8},g);}});
  const mid=a=>{const o=[];const s=a.length>1?a[1]-a[0]:0;o.push(a[0]-s/2);for(let i=0;i<a.length;i++)o.push(a[i]+s/2);return o;};
  addG(mid(xs),true,'#f2f2f2');addG(mid(ys),false,'#f2f2f2');
  addG(xs,true,'#e4e4e4');addG(ys,false,'#e4e4e4');
 }
 const cid='clip'+(clipId++);
 const cp=mk('clipPath',{id:cid},g);mk('rect',{x:l,y:t,width:r-l,height:b-t},cp);
 const inner=mk('g',{'clip-path':'url(#'+cid+')'},g);
 if(c.smX){
  const up=c.smX.map((x,i)=>[X(x),Y(c.smY[i]+c.se[i])]);
  const lo=c.smX.map((x,i)=>[X(x),Y(c.smY[i]-c.se[i])]).reverse();
  const band=mk('path',{d:crPath(up)+' L'+crPath(lo).slice(1)+' Z',fill:'#9a9a9a','fill-opacity':0.4},inner);
  
  
 }
 c.pts.forEach(p=>{
  const dot=mk('circle',{cx:X(p[0]),cy:Y(p[1]),r:c.r,fill:'#111','fill-opacity':c.op||1},inner);
  
  
 });
 if(c.smX){
  const line=mk('path',{d:crPath(c.smX.map((x,i)=>[X(x),Y(c.smY[i])])),fill:'none',stroke:'#3366ee','stroke-width':c.lw||2},inner);
  
  
 }
 const fr=mk('rect',{x:l,y:t,width:r-l,height:b-t,fill:'none',stroke:c.frame||'#333','stroke-width':c.fw||1},g);
 
 
 c.xt.forEach((v,i)=>{const x=X(v);mk('line',{x1:x,x2:x,y1:b,y2:b+4,stroke:'#333'},g);
  const tx=mk('text',{x:x,y:b+c.xlo,'font-size':c.fs,'text-anchor':'middle',fill:'#333'},g);tx.textContent=c.xl[i];
  
  });
 if(c.yx!==undefined){c.yt.forEach((v,i)=>{const y=Y(v);mk('line',{x1:c.yx+2,x2:c.yx+6,y1:y,y2:y,stroke:'#333'},g);
  const ty=mk('text',{x:c.yx,y:y+c.fs*0.36,'font-size':c.fs,'text-anchor':'end',fill:'#333'},g);ty.textContent=c.yl[i];
  
  });}
 if(c.stats){c.stats.forEach((s,i)=>{const st=mk('text',{x:c.sx||r-4,y:t+c.sy+i*c.sdy,'font-size':c.sfs,'text-anchor':c.sa||'end',fill:c.sc||'#e8262b'},g);st.textContent=s;
  
  });}
 if(c.title){const tt=mk('text',{x:(l+r)/2,y:t-11,'font-size':17,'text-anchor':'middle',fill:'#222'},g);tt.textContent=c.title;
  
  }
 if(c.strip){const [sl,sr]=c.strip;const sb=mk('rect',{x:sl,y:t,width:sr-sl,height:b-t,fill:'#d6d6d6',stroke:'#555','stroke-width':0.6},g);
  
  
  const cx=(sl+sr)/2,cy=(t+b)/2;const sx=mk('text',{x:cx,y:cy,'font-size':c.stfs||8,'text-anchor':'middle','dominant-baseline':'central',fill:'#444',transform:'rotate(-90 '+cx+' '+cy+')'},g);sx.textContent=c.stripText;
  
  }
}
// Panel A
const aY=[1,254,5,80], aYt=[1,2,3,4,5], aYl=['1','2','3','4','5'];
const A=[
 {name:'purity-panel',title:'Purity',box:[110,70,311,260],xa:[0.25,155,1.0,305],xt:[0.25,0.5,0.75,1.0],xl:['0.25','0.50','0.75','1.00'],pts:purityPts.concat(purityPts2),smX:puritySmX,smY:puritySmY,se:puritySe,stats:['cor = -0.009','p = 8.62e-01'],yx:83,strip:[88,110],stripText:'LIHC'},
 {name:'b-cell-panel',title:'B cell',box:[317,70,517,260],xa:[0.1,357,0.4,492],xt:[0.1,0.2,0.3,0.4],xl:['0.1','0.2','0.3','0.4'],pts:bcellPts.concat(bcellPts2),smX:bcellSmX,smY:bcellSmY,se:bcellSe,stats:['partial.cor = 0.389','p = 6.93e-14']},
 {name:'cd8-t-cell-panel',title:'CD8+T cell',box:[524,70,723,260],xa:[0.2,567,0.6,680],xt:[0.2,0.4,0.6],xl:['0.2','0.4','0.6'],pts:cd8Pts.concat(cd8Pts2),smX:cd8SmX,smY:cd8SmY,se:cd8Se,stats:['partial.cor = 0.247','p = 3.77e-06']},
 {name:'cd4-t-cell-panel',title:'CD4+T cell',box:[731,70,930,260],xa:[0,737,0.4,918],xt:[0,0.1,0.2,0.3,0.4],xl:['0.0','0.1','0.2','0.3','0.4'],pts:cd4Pts.concat(cd4Pts2),smX:cd4SmX,smY:cd4SmY,se:cd4Se,stats:['partial.cor = 0.541','p = 1.50e-27']},
 {name:'macrophage-panel',title:'Macrophage',box:[938,70,1137,260],xa:[0,950,0.3,1113],xt:[0,0.1,0.2,0.3],xl:['0.0','0.1','0.2','0.3'],pts:macPts.concat(macPts2),smX:macSmX,smY:macSmY,se:macSe,stats:['partial.cor = 0.535','p = 1.17e-26']},
 {name:'neutrophil-panel',title:'Neutrophil',box:[1145,70,1344,260],xa:[0.05,1158,0.25,1330],xt:[0.05,0.1,0.15,0.2,0.25],xl:['0.05','0.10','0.15','0.20','0.25'],pts:neuPts.concat(neuPts2),smX:neuSmX,smY:neuSmY,se:neuSe,stats:['partial.cor = 0.457','p = 3.11e-19']},
 {name:'dendritic-cell-panel',title:'Dendritic cell',box:[1352,70,1551,260],xa:[0.5,1404,1.0,1506],xt:[0.5,0.75,1.0],xl:['0.50','0.75','1.00'],pts:dcPts.concat(dcPts2),smX:dcSmX,smY:dcSmY,se:dcSe,stats:['partial.cor = 0.416','p = 1.15e-15']}
];
A.forEach(c=>panel(Object.assign({ya:aY,yt:aYt,yl:aYl,r:3,fs:15.5,xlo:19,sy:13,sdy:14,sfs:11.5,stfs:8},c)));
// Panel B
const B=[
 {name:'ccl2-panel',title:'CCL2',box:[124,433,314,622],strip:[103,124],stripText:'CCL2',xa:[1,126,5,304],ya:[0,618,10,447],yt:[0,2.5,5,7.5,10],yl:['0.0','2.5','5.0','7.5','10.0'],yx:98,pts:ccl2Pts.concat(ccl2Pts2),smX:ccl2SmX,smY:ccl2SmY,se:ccl2Se,stats:['cor = 0.271','p = 1.28e-07'],tx:211},
 {name:'cd68-panel',title:'CD68',box:[352,433,560,622],strip:[333,352],stripText:'CD68',xa:[1,357,5,550],ya:[4,580,8,485],yt:[4,6,8],yl:['4','6','8'],yx:331,pts:cd68Pts.concat(cd68Pts2),smX:cd68SmX,smY:cd68SmY,se:cd68Se,stats:['cor = 0.298','p = 5.38e-09'],tx:456},
 {name:'il10-panel',title:'IL10',box:[605,437,808,622],strip:[583,605],stripText:'IL10',xa:[1,610,5,800],ya:[0,607,3,478],yt:[0,1,2,3],yl:['0','1','2','3'],yx:579,pts:il10Pts.concat(il10Pts2),smX:il10SmX,smY:il10SmY,se:il10Se,stats:['cor = 0.31','p = 1.11e-09'],tx:720},
 {name:'ms4a4a-panel',title:'MS4A4A',box:[852,437,1056,622],strip:[830,852],stripText:'MS4A4A',xa:[1,855,5,1046],ya:[0,611,6,468],yt:[0,2,4,6],yl:['0','2','4','6'],yx:826,pts:ms4Pts.concat(ms4Pts2),smX:ms4SmX,smY:ms4SmY,se:ms4Se,stats:['cor = 0.202','p = 9.06e-05'],tx:963},
 {name:'msr1-panel',title:'MSR1',box:[1099,437,1302,622],strip:[1077,1099],stripText:'MSR1',xa:[1,1103,5,1294],ya:[0,618,5,465],yt:[0,1,2,3,4,5],yl:['0','1','2','3','4','5'],yx:1073,pts:msr1Pts.concat(msr1Pts2),smX:msr1SmX,smY:msr1SmY,se:msr1Se,stats:['cor = 0.371','p = 1.62e-13'],tx:1212},
 {name:'vsig4-panel',title:'VSIG4',box:[1343,433,1550,622],strip:[1322,1343],stripText:'VSIG4',xa:[1,1348,5,1540],ya:[0,612,8,438],yt:[0,2,4,6,8],yl:['0','2','4','6','8'],yx:1318,pts:vsig4Pts.concat(vsig4Pts2),smX:vsig4SmX,smY:vsig4SmY,se:vsig4Se,stats:['cor = 0.222','p = 1.65e-05'],tx:1447}
];
B.forEach(c=>{const tl=c.title;delete c.title;panel(Object.assign({xt:[1,2,3,4,5],xl:['1','2','3','4','5'],r:2.7,fs:15.5,xlo:19,sy:15,sdy:17,sfs:10.5,stfs:7.5},c));
 const tt=mk('text',{x:c.tx,y:401,'font-size':17,'text-anchor':'middle',fill:'#222'});tt.textContent=tl;
 
 });
// Panel C
panel({name:'cd163-stx6-tumor-panel',box:[224,803,678,1205],xa:[1,229,5,649],ya:[0,1194,6,883],xt:[1,2,3,4,5],xl:['1','2','3','4','5'],yt:[0,2,4,6],yl:['0','2','4','6'],yx:168,pts:cPts.concat(cPts2),smX:cSmX,smY:cSmY,se:cSe,r:5,lw:3,fs:15.5,xlo:23,strip:[180,223],stripText:'CD163',stfs:21,stats:['cor = 0.173','p= 8.17e-04'],sy:34,sdy:34,sfs:22,sx:665});
const cs=mk('rect',{x:225,y:760,width:453,height:42,fill:'#d6d6d6',stroke:'#555','stroke-width':0.8});


const cst=mk('text',{x:451,y:789,'font-size':21,'text-anchor':'middle',fill:'#222'});cst.textContent='STX6';


mk('line',{x1:224,x2:224,y1:803,y2:1205,stroke:'#222','stroke-width':2});
mk('line',{x1:224,x2:678,y1:803,y2:803,stroke:'#222','stroke-width':2});
// Panel D
panel({name:'cd163-stx6-gepia-panel',box:[940,758,1416,1205],xa:[1,986,4,1326],ya:[0,1205,8,782],xt:[1,2,3,4],xl:['1','2','3','4'],yt:[0,2,4,6,8],yl:['0','2','4','6','8'],yx:934,grid:false,pts:dPts.concat(dPts2),r:2.3,fs:15,xlo:25,frame:'#555',fw:1.2,stats:['p-value=0.00056','R=0.18'],sx:978,sa:'start',sc:'#222',sy:33,sdy:21,sfs:15});
</script>
</body></html>
